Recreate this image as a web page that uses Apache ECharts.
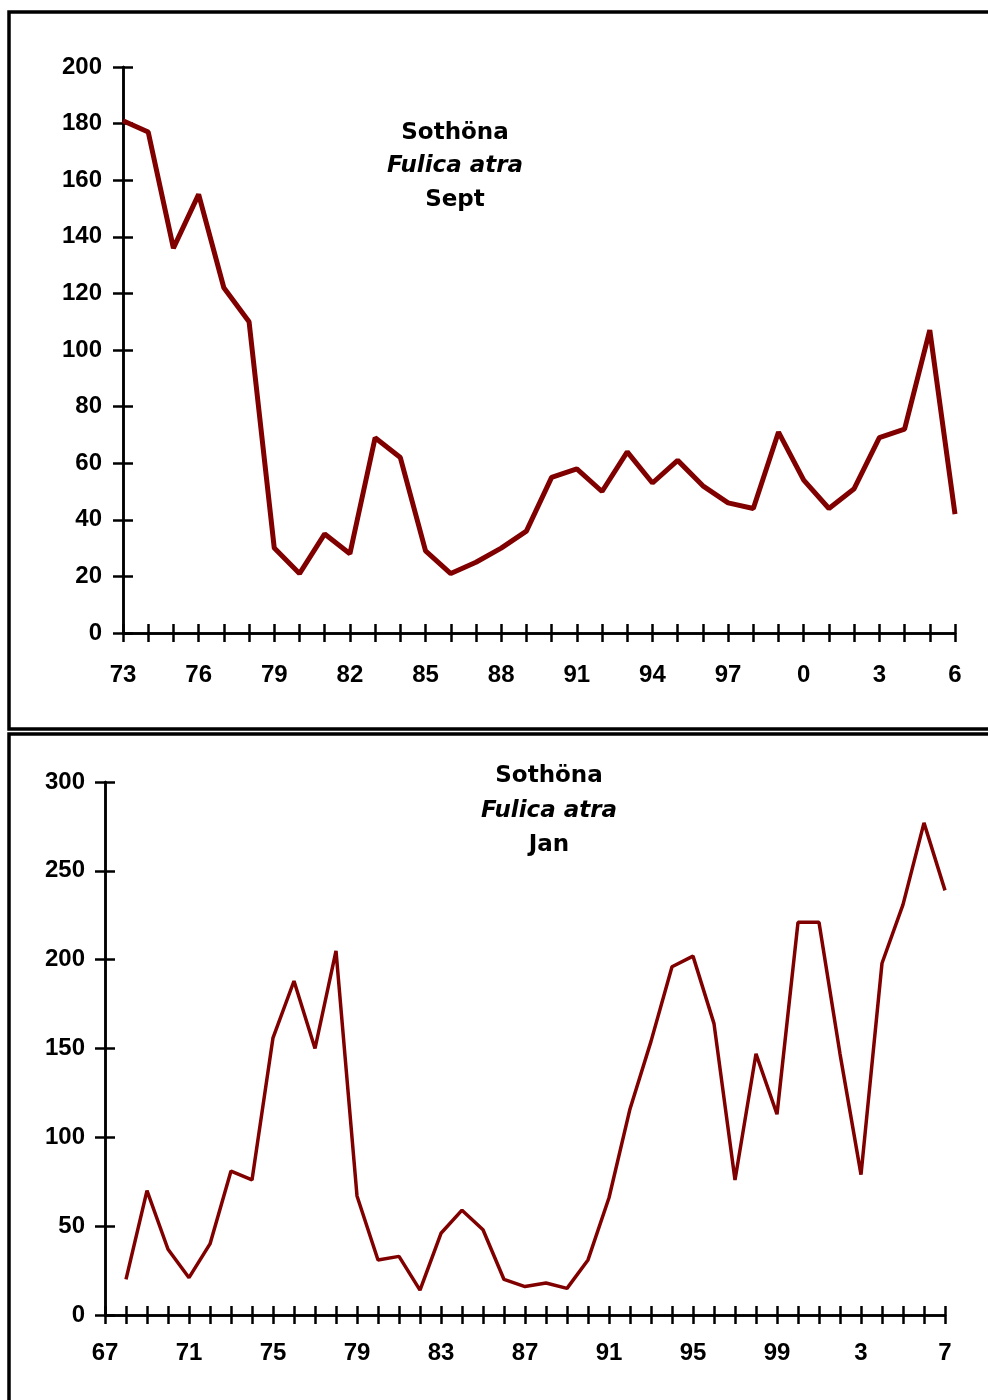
<!DOCTYPE html>
<html>
<head>
<meta charset="utf-8">
<script src="https://cdn.jsdelivr.net/npm/echarts@6/dist/echarts.min.js"></script>
<style>
  html, body { margin: 0; padding: 0; background: #fff; }
  #chart { width: 988px; height: 1400px; }
</style>
</head>
<body>
<div id="chart"></div>
<script>
// September counts 1973-2006
const septYears = ['73','74','75','76','77','78','79','80','81','82','83','84','85','86','87','88','89',
  '90','91','92','93','94','95','96','97','98','99','0','1','2','3','4','5','6']
const septCounts = [181, 177, 136, 155, 122, 110, 30, 21, 35, 28, 69, 62, 29, 21, 25, 30, 36,
  55, 58, 50, 64, 53, 61, 52, 46, 44, 71, 54, 44, 51, 69, 72, 107, 42]

// January counts 1967-2007 (no count for 1967)
const janYears = ['67','68','69','70','71','72','73','74','75','76','77','78','79','80','81','82','83','84','85','86','87','88','89',
  '90','91','92','93','94','95','96','97','98','99','0','1','2','3','4','5','6','7']
const janCounts = [null, 20, 70, 37, 21, 40, 81, 76, 156, 188, 150, 205, 67, 31, 33, 14, 46, 59, 48, 20, 16, 18, 15,
  31, 66, 116, 154, 196, 202, 164, 76, 147, 113, 221, 221, 147, 79, 198, 231, 277, 239]

const septTicks = { min: 0, max: 200, interval: 20 }
const janTicks = { min: 0, max: 300, interval: 50 }

const chart = echarts.init(document.getElementById('chart'))

const FONT = 'Liberation Sans, Arial, sans-serif'
const TITLE_FONT = 'DejaVu Sans, sans-serif'
const labelStyle = { color: '#000', fontSize: 24, fontWeight: 'bold', fontFamily: FONT }
const axisLine = { show: true, onZero: false, lineStyle: { color: '#000', width: 2.5 } }
const tickLine = { color: '#000', width: 2.5 }

// category axis: one copy with outward ticks and labels, one with inward ticks only
function xAxes(gridIndex, data, labelInterval, margin) {
  const base = {
    type: 'category', gridIndex, data, boundaryGap: false, position: 'bottom',
    axisLine,
    splitLine: { show: false },
  }
  return [
    {
      ...base,
      axisTick: { show: true, interval: 0, length: 9, lineStyle: tickLine },
      axisLabel: { ...labelStyle, interval: labelInterval, margin },
    },
    {
      ...base,
      axisTick: { show: true, inside: true, interval: 0, length: 9, lineStyle: tickLine },
      axisLabel: { show: false },
    },
  ]
}

function yAxes(gridIndex, ticks, margin) {
  const base = {
    type: 'value', gridIndex, ...ticks, position: 'left',
    axisLine,
    splitLine: { show: false },
  }
  return [
    {
      ...base,
      axisTick: { show: true, length: 10, lineStyle: tickLine },
      axisLabel: { ...labelStyle, margin },
    },
    {
      ...base,
      axisTick: { show: true, inside: true, length: 10, lineStyle: tickLine },
      axisLabel: { show: false },
    },
  ]
}

function title(left, top, lh, month) {
  return {
    left, top, textAlign: 'center', padding: 0,
    text: '{a|Sothöna}\n{b|Fulica atra}\n{a|' + month + '}',
    textStyle: {
      rich: {
        a: { fontSize: 23, fontWeight: 'bold', fontFamily: TITLE_FONT, color: '#000', lineHeight: lh },
        b: { fontSize: 23, fontWeight: 'bold', fontStyle: 'italic', fontFamily: TITLE_FONT, color: '#000', lineHeight: lh },
      },
    },
  }
}

const option = {
  backgroundColor: '#fff',
  animation: false,
  title: [
    title(455, 116, 33.5, 'Sept'),
    title(549, 759, 34.5, 'Jan'),
  ],
  grid: [
    { left: 123, right: 33, top: 67, bottom: 1400 - 633 },
    { left: 105, right: 43, top: 782, bottom: 1400 - 1315 },
  ],
  xAxis: [
    ...xAxes(0, septYears, 2, 30),
    ...xAxes(1, janYears, 3, 26),
  ],
  yAxis: [
    ...yAxes(0, septTicks, 21),
    ...yAxes(1, janTicks, 20),
  ],
  series: [
    {
      type: 'line', xAxisIndex: 0, yAxisIndex: 0, data: septCounts,
      showSymbol: false, symbol: 'none',
      lineStyle: { color: '#800000', width: 5 },
    },
    {
      type: 'line', xAxisIndex: 2, yAxisIndex: 2, data: janCounts,
      showSymbol: false, symbol: 'none', connectNulls: false,
      lineStyle: { color: '#800000', width: 3.5 },
    },
  ],
  graphic: [
    // panel frames
    { type: 'rect', shape: { x: 9, y: 12, width: 1000, height: 717 }, style: { fill: 'none', stroke: '#000', lineWidth: 3.5 }, z: 100 },
    { type: 'rect', shape: { x: 9, y: 734, width: 1000, height: 700 }, style: { fill: 'none', stroke: '#000', lineWidth: 3.5 }, z: 100 },
  ],
}

chart.setOption(option)
</script>
</body>
</html>
